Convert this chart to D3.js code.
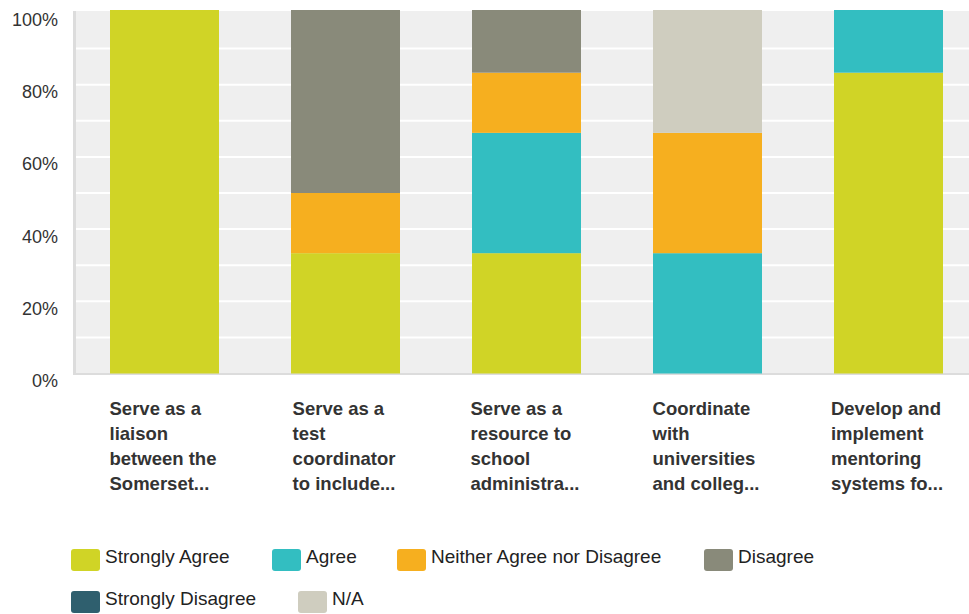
<!DOCTYPE html>
<html><head><meta charset="utf-8">
<script src="https://cdn.jsdelivr.net/npm/d3@7"></script>
<style>body{margin:0;background:#fff;}svg{display:block;font-family:"Liberation Sans",Arial,sans-serif;}</style>
</head><body><svg id="c" width="969" height="614"></svg>
<script>
const categories = [
  ["Serve as a","liaison","between the","Somerset..."],
  ["Serve as a","test","coordinator","to include..."],
  ["Serve as a","resource to","school","administra..."],
  ["Coordinate","with","universities","and colleg..."],
  ["Develop and","implement","mentoring","systems fo..."]
];
const seriesNames = ["Strongly Agree","Agree","Neither Agree nor Disagree","Disagree","Strongly Disagree","N/A"];
const seriesColors = ["#d0d426","#33bec1","#f6af1f","#898a7a","#2f5f6e","#cfcdbf"];
const stronglyAgree = [100, 33.33, 33.33, 0, 83.33];
const agree         = [0, 0, 33.33, 33.33, 16.67];
const neither       = [0, 16.67, 16.67, 33.33, 0];
const disagree      = [0, 50, 16.67, 0, 0];
const stronglyDis   = [0, 0, 0, 0, 0];
const na            = [0, 0, 0, 33.33, 0];
const yTicks = [0,20,40,60,80,100];

(function(){
const svg = d3.select("#c");
const pL = 76, pR = 979, pT = 12.5, pB = 373.5, bgTop = 11, barTop = 10;
const keys = seriesNames;
const allSeries = [stronglyAgree, agree, neither, disagree, stronglyDis, na];
const rows = categories.map((c,i)=>{const o={i}; keys.forEach((k,j)=>o[k]=allSeries[j][i]); return o;});
const stack = d3.stack().keys(keys)(rows);

const x = d3.scaleBand().domain(d3.range(categories.length)).range([pL-2, pR]).paddingInner(0.4).paddingOuter(0.2);
const y = d3.scaleLinear().domain([0,100]).range([pB, pT]);

svg.append("rect").attr("x", pL).attr("y", bgTop).attr("width", pR-pL).attr("height", pB-bgTop).attr("fill","#efefef");
svg.append("g").selectAll("line").data(d3.range(10,100,10)).join("line")
  .attr("x1", pL).attr("x2", pR).attr("y1", d=>y(d)).attr("y2", d=>y(d))
  .attr("stroke","#fff").attr("stroke-width",2);
svg.append("rect").attr("x", 73).attr("y", bgTop).attr("width",3).attr("height", pB-bgTop+1).attr("fill","#dcdcdc");
svg.append("rect").attr("x", 73).attr("y", pB-0.5).attr("width", pR-73).attr("height",2).attr("fill","#dcdcdc");

const visible = d => (d[1]-d[0]) > 0.001;
const topY = d => (d[1] >= 99.9 && visible(d)) ? barTop : y(d[1]);
svg.append("g").selectAll("g").data(stack).join("g").attr("fill",(d,i)=>seriesColors[i])
  .selectAll("rect").data(d=>d.filter(visible)).join("rect")
  .attr("x",d=>Math.round(x(d.data.i))).attr("width", Math.round(x.bandwidth()))
  .attr("y", d=>topY(d)).attr("height", d=>Math.max(0, y(d[0])-topY(d)));

const yAxis = d3.axisLeft(y).tickValues(yTicks).tickFormat(d=>d+"%").tickSize(0).tickPadding(0);
const ya = svg.append("g").attr("transform","translate(58,0)").call(yAxis);
ya.select(".domain").remove();
ya.selectAll("text").attr("font-size",18).attr("fill","#333").attr("dy","0.72em").attr("font-family","'Liberation Sans',Arial,sans-serif");

const xl = svg.append("g");
categories.forEach((lines,i)=>{
  const cx = x(i) + x.bandwidth()/2;
  const t = xl.append("text").attr("y", 415).attr("font-size",18.5).attr("font-weight","bold").attr("fill","#333");
  const spans = lines.map((l,j)=>t.append("tspan").attr("dy", j===0?0:25).text(l));
  const w = d3.max(spans, s=>s.node().getComputedTextLength());
  spans.forEach(s=>s.attr("x", cx - w/2 - 1.5));
});

const legendPos = [[71,549],[272,549],[397,549],[704,549],[71,591],[298,591]];
const lg = svg.append("g");
seriesNames.forEach((n,i)=>{
  const [lx,ly] = legendPos[i];
  lg.append("rect").attr("x",lx).attr("y",ly).attr("width",29).attr("height",22).attr("rx",3).attr("fill",seriesColors[i]);
  lg.append("text").attr("x",lx+34).attr("y",ly+14).attr("font-size",19).attr("fill","#222").text(n);
});
})();
</script></body></html>
